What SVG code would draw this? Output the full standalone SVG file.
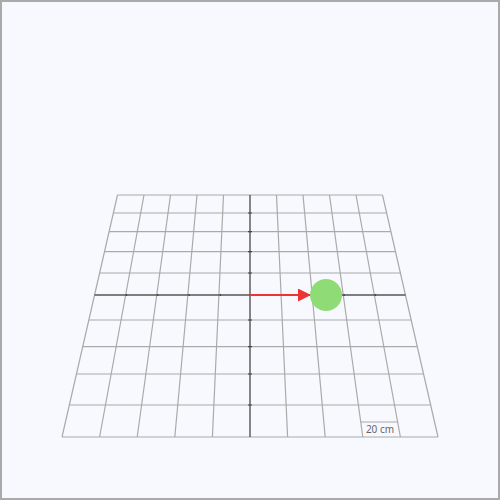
<svg xmlns="http://www.w3.org/2000/svg" width="500" height="500" viewBox="0 0 500 500">
<defs>
<style>
.g{stroke:#aaaaaa;stroke-width:1.2;fill:none}
.ax{stroke:#555555;stroke-width:1.4;fill:none}
.tk{stroke:#444444;stroke-width:1.2}
.lbl{font-family:"Noto Sans","DejaVu Sans",sans-serif;font-size:10px;fill:#666666}
</style>
<marker id="ah" viewBox="0 0 10 10" refX="10" refY="5" markerWidth="7.5" markerHeight="6.5" markerUnits="strokeWidth" orient="auto">
<path d="M0,0 L10,5 L0,10 z" fill="#ee3333"/>
</marker>
</defs>
<rect x="1" y="1" width="498" height="498" fill="#f8f8ff" stroke="#aaaaaa" stroke-width="2"/>
<g id="grid">
<path class="g" d="M117.5,195H382.5 M113.4,213H386.6 M109.1,231.7H390.9 M104.5,251.7H395.5 M99.6,273H400.4 M88.8,320H411.2 M82.7,346.7H417.3 M76.4,374H423.6 M69.3,405H430.7 M62,437H438"/>
<path class="g" d="M117.5,195L62,437 M144,195L99.6,437 M170.5,195L137.2,437 M197,195L174.8,437 M223.5,195L212.4,437 M276.5,195L287.6,437 M303,195L325.2,437 M329.5,195L362.8,437 M356,195L400.4,437 M382.5,195L438,437"/>
<path class="ax" d="M94.5,295H405.5 M250,195V437"/>
<path class="tk" d="M248,213H252 M248,231.7H252 M248,251.7H252 M248,273H252 M248,320H252 M248,346.7H252 M248,374H252 M248,405H252"/>
<path class="tk" d="M126.5,294V296 M157.8,294V296 M189.2,294V296 M220.5,294V296 M281.5,294V296 M312.8,294V296 M344.2,294V296 M375.5,294V296"/>
</g>
<g id="scale">
<path class="g" d="M360.7,422H397.6"/>
<text class="lbl" x="380" y="433" text-anchor="middle">20 cm</text>
</g>
<g id="connectors">
<line x1="250" y1="295" x2="311" y2="295" stroke="#ee3333" stroke-width="2" marker-end="url(#ah)"/>
</g>
<g id="ball">
<circle cx="326" cy="295" r="16" fill="#8fdb75"/>
</g>
</svg>
